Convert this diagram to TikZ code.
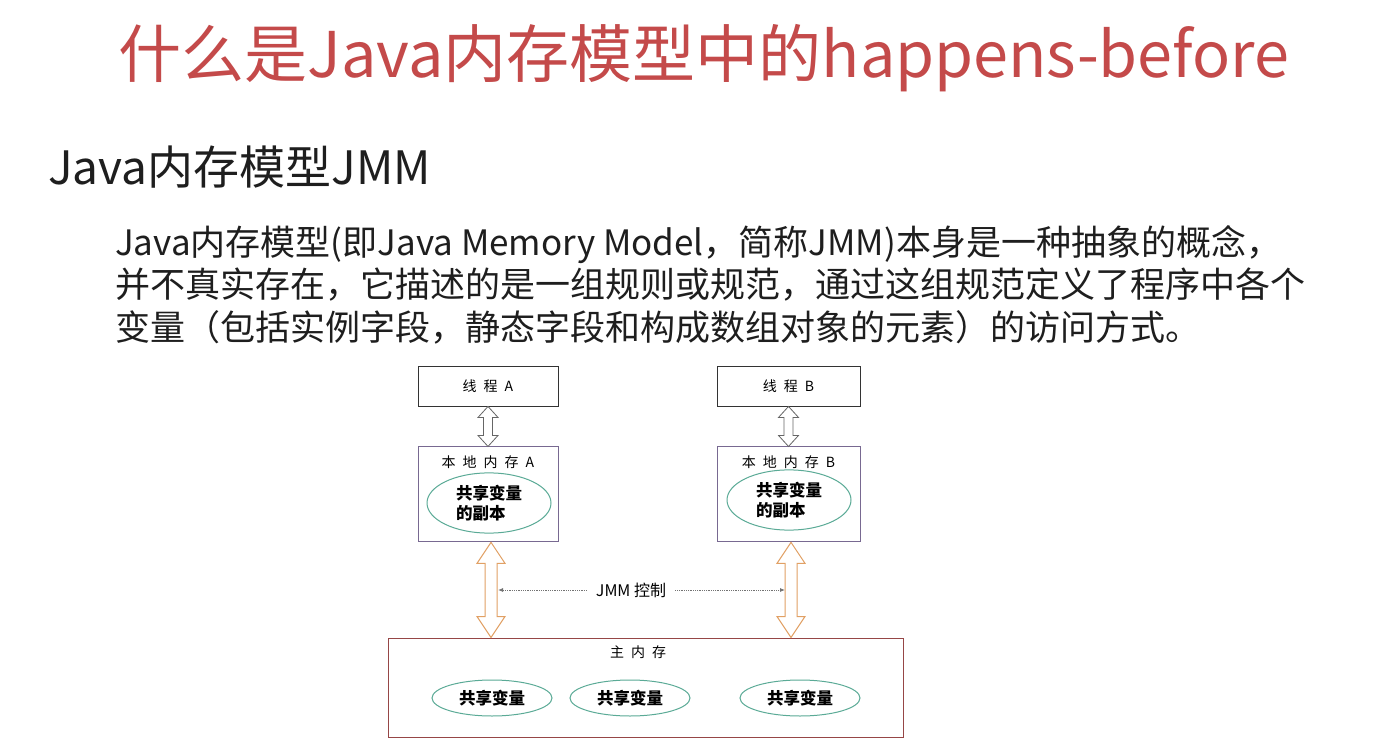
\documentclass[tikz,border=0pt]{standalone}
\usepackage{fontspec}
\setmainfont{Noto Sans CJK SC}
\usepackage{xcolor}
\usepackage{tikz}
\usetikzlibrary{arrows.meta,shapes.geometric,positioning,calc}
\definecolor{titlecolor}{RGB}{196,74,74}
\definecolor{textcolor}{RGB}{30,30,30}
\definecolor{localcolor}{RGB}{120,105,145}
\definecolor{varcolor}{RGB}{90,170,150}
\definecolor{maincolor}{RGB}{150,70,70}
\definecolor{syncolor}{RGB}{225,160,100}

\begin{document}
\begin{tikzpicture}[
    x=1pt, y=-1pt,
    thread/.style={rectangle, draw=black!80, line width=0.9pt, minimum width=140pt, minimum height=40pt, font=\fontsize{14}{16}\selectfont},
    localmem/.style={rectangle, draw=localcolor, line width=0.9pt, minimum width=140pt, minimum height=95pt},
    copyvar/.style={ellipse, draw=varcolor, line width=1pt, minimum width=124pt, minimum height=58pt, align=left, font=\fontsize{16.5}{20}\selectfont\bfseries},
    sharedvar/.style={ellipse, draw=varcolor, line width=1pt, minimum width=120pt, minimum height=36pt, font=\fontsize{16.5}{18}\selectfont\bfseries},
    caption/.style={font=\fontsize{14}{16}\selectfont, inner sep=1pt},
    threadlink/.style={draw=black!60, fill=white, line width=0.8pt},
    synclink/.style={draw=syncolor, fill=white, line width=1pt},
    ctl/.style={-{Latex[length=5pt,width=4pt]}, densely dotted, black!55, line width=0.8pt}
]
    \useasboundingbox[fill=white] (0,0) rectangle (1392,743);

    % slide texts
    \node[anchor=base, text=titlecolor, font=\fontsize{63}{70}\selectfont, inner sep=0pt] (title) at (704,78) {什么是Java内存模型中的happens-before};
    \node[anchor=base west, text=textcolor, font=\fontsize{46}{50}\selectfont, inner sep=0pt] (heading) at (48,185) {Java内存模型JMM};
    \node[anchor=base west, text=textcolor, font=\fontsize{35}{42}\selectfont, inner sep=0pt] (line1) at (115,256) {Java内存模型(即Java Memory Model，简称JMM)本身是一种抽象的概念，};
    \node[anchor=base west, text=textcolor, font=\fontsize{35}{42}\selectfont, inner sep=0pt] (line2) at (115,298) {并不真实存在，它描述的是一组规则或规范，通过这组规范定义了程序中各个};
    \node[anchor=base west, text=textcolor, font=\fontsize{35}{42}\selectfont, inner sep=0pt] (line3) at (115,340) {变量（包括实例字段，静态字段和构成数组对象的元素）的访问方式。};

    % threads and local memory
    \node[thread] (thrA) at (488,386) {线\enspace 程\enspace A};
    \node[thread, minimum width=143pt] (thrB) at (788.5,386) {线\enspace 程\enspace B};
    \node[localmem, below=40pt of thrA] (locA) {};
    \node[localmem, minimum width=143pt, below=40pt of thrB] (locB) {};
    \node[caption, below=8pt of locA.north] (labA) {本\enspace 地\enspace 内\enspace 存\enspace A};
    \node[caption, below=8pt of locB.north] (labB) {本\enspace 地\enspace 内\enspace 存\enspace B};
    \node[copyvar] (copyA) at (489,503) {共享变量\\的副本};
    \node[copyvar] (copyB) at (789,500) {共享变量\\的副本};

    % main memory
    \node[rectangle, draw=maincolor, line width=1pt, minimum width=515pt, minimum height=99pt] (main) at (645.5,687.5) {};
    \node[caption] (labMain) at (638,652) {主\enspace 内\enspace 存};
    \node[sharedvar] (varA) at (492,698) {共享变量};
    \node[sharedvar] (varB) at (630,698) {共享变量};
    \node[sharedvar] (varC) at (800,698) {共享变量};

    % thread <-> local memory
    \foreach \u/\l in {thrA/locA, thrB/locB} {
        \draw[threadlink] (\u.south) -- ++(10,11) -- ++(-5.5,0) -- ($(\l.north)+(4.5,-11)$) -- ++(5.5,0)
            -- (\l.north) -- ++(-10,-11) -- ++(5.5,0) -- ($(\u.south)+(-4.5,11)$) -- ++(-5.5,0) -- cycle;
    }

    % local memory <-> main memory
    \coordinate (botA) at (locA.south -| 491,0);
    \coordinate (botB) at (locB.south -| 791,0);
    \foreach \l in {A, B} {
        \coordinate (endl) at (bot\l |- main.north);
        \draw[synclink] (bot\l) -- ++(14,21) -- ++(-8,0) -- ($(endl)+(6,-21)$) -- ++(8,0)
            -- (endl) -- ++(-14,-21) -- ++(8,0) -- ($(bot\l)+(-6,21)$) -- ++(-8,0) -- cycle;
    }

    % JMM control
    \node[caption, font=\fontsize{16}{18}\selectfont] (jmm) at (631,590) {JMM 控制};
    \coordinate (ctlA) at ($(botA |- jmm.west)+(7,0)$);
    \coordinate (ctlB) at ($(botB |- jmm.east)+(-6,0)$);
    \draw[ctl] ($(jmm.west)+(-8,0)$) -- (ctlA);
    \draw[ctl] ($(jmm.east)+(8,0)$) -- (ctlB);
\end{tikzpicture}
\end{document}
